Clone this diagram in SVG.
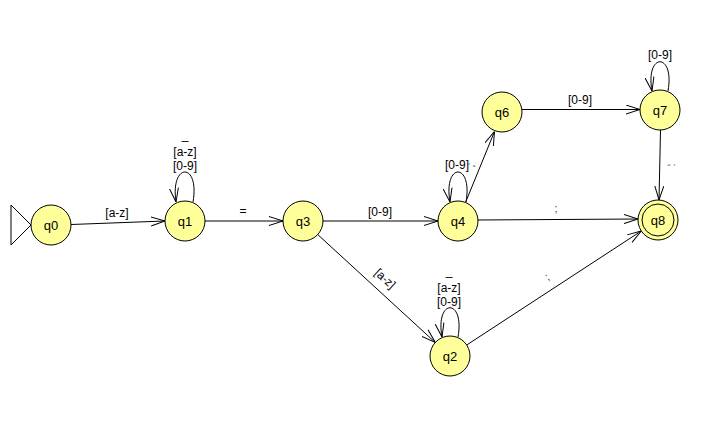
<svg xmlns="http://www.w3.org/2000/svg" width="725" height="432" viewBox="0 0 725 432">
<style>
.node circle{fill:#ffff99;stroke:#000;stroke-width:1}
.node text{font-family:"Liberation Sans",Arial,sans-serif;font-size:13px;text-anchor:middle;fill:#000}
.edge{fill:none;stroke:#000;stroke-width:1;marker-end:url(#arr)}
.lbl{font-family:"Liberation Sans",Arial,sans-serif;font-size:12px;text-anchor:middle;fill:#000}
.tiny{font-family:"Liberation Sans",Arial,sans-serif;font-size:11px;text-anchor:middle;fill:#444}
</style>
<defs>
<marker id="arr" viewBox="0 0 14 10" refX="14" refY="5" markerWidth="14" markerHeight="10" markerUnits="userSpaceOnUse" orient="auto">
<path d="M0,0.5 L14,5 L0,9.5" fill="none" stroke="#000" stroke-width="1"/>
</marker>
</defs>
<rect width="725" height="432" fill="#fff"/>
<g id="connectors">
<path class="edge" d="M71,224.5 L165,221"/>
<path class="edge" d="M205,221 L283,221"/>
<path class="edge" d="M323,221 L438,221"/>
<path class="edge" d="M317.7,234.5 L435.3,342.5"/>
<path class="edge" d="M465.5,202.5 L494.5,131.5"/>
<path class="edge" d="M522,109.5 L640,109.5"/>
<path class="edge" d="M660.5,130 L659,200"/>
<path class="edge" d="M478,220 L638,219"/>
<path class="edge" d="M466.7,345 L641.3,231"/>
<path class="edge" d="M193,202 C200,162 170,162 176,202"/>
<path class="edge" d="M466,202 C473,162 443,162 450,202"/>
<path class="edge" d="M458,337 C465,298 435,298 442,337"/>
<path class="edge" d="M668,91 C675,52 645,52 652,91"/>
<text class="lbl" x="117" y="217">[a-z]</text>
<text class="lbl" x="185" y="139">_</text>
<text class="lbl" x="185" y="156">[a-z]</text>
<text class="lbl" x="185" y="170">[0-9]</text>
<text class="lbl" x="243" y="215">=</text>
<text class="lbl" x="380" y="216">[0-9]</text>
<text class="lbl" transform="translate(381,283) rotate(42.6)" x="0" y="-2">[a-z]</text>
<text class="lbl" x="457" y="169">[0-9]</text>
<text class="tiny" transform="translate(474,166) rotate(-67.8)" x="0" y="0">;</text>
<text class="lbl" x="580" y="104">[0-9]</text>
<text class="lbl" x="660" y="59">[0-9]</text>
<text class="tiny" transform="translate(669,165) rotate(90)" x="0" y="0">;</text>
<text class="tiny" x="556" y="212">;</text>
<text class="tiny" transform="translate(549,280) rotate(-33)" x="0" y="0">;</text>
<text class="lbl" x="449" y="275">_</text>
<text class="lbl" x="449" y="292">[a-z]</text>
<text class="lbl" x="449" y="306">[0-9]</text>
</g>
<g id="start"><path d="M31,225 L11,205 L11,245 Z" fill="none" stroke="#000" stroke-width="1"/></g>
<g id="q0" class="node"><circle cx="51" cy="225" r="20"/><text x="51" y="230">q0</text></g>
<g id="q1" class="node"><circle cx="185" cy="221" r="20"/><text x="185" y="226">q1</text></g>
<g id="q3" class="node"><circle cx="303" cy="221" r="20"/><text x="303" y="226">q3</text></g>
<g id="q4" class="node"><circle cx="458" cy="221" r="20"/><text x="458" y="226">q4</text></g>
<g id="q6" class="node"><circle cx="502" cy="112" r="20"/><text x="502" y="117">q6</text></g>
<g id="q7" class="node"><circle cx="660" cy="110" r="20"/><text x="660" y="115">q7</text></g>
<g id="q8" class="node"><circle cx="658" cy="220" r="20"/><circle cx="658" cy="220" r="16"/><text x="658" y="225">q8</text></g>
<g id="q2" class="node"><circle cx="450" cy="356" r="20"/><text x="450" y="361">q2</text></g>
</svg>
